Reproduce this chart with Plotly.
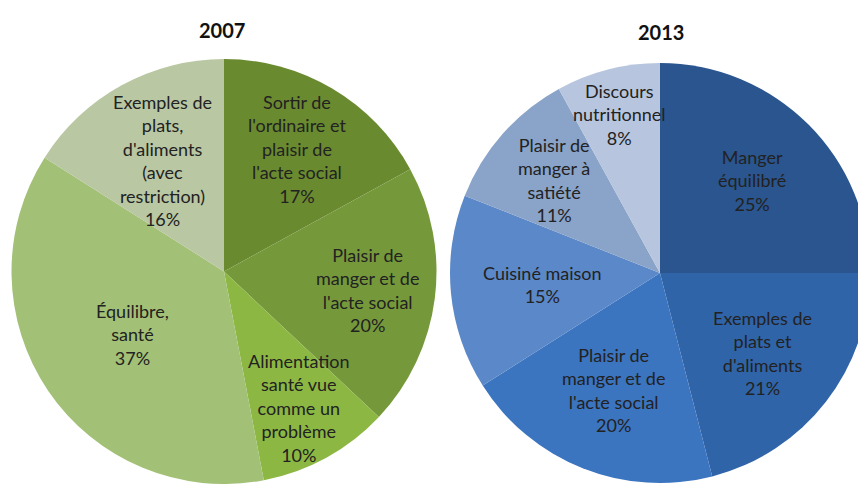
import math
import plotly.graph_objects as go

# ---------------- data ----------------
titles = ["2007", "2013"]

labels_2007 = ["Sortir de<br>l'ordinaire et<br>plaisir de<br>l'acte social",
               "Plaisir de<br>manger et de<br>l'acte social",
               "Alimentation<br>santé vue<br>comme un<br>problème",
               "Équilibre,<br>santé",
               "Exemples de<br>plats,<br>d'aliments<br>(avec<br>restriction)"]
values_2007 = [17, 20, 10, 37, 16]

labels_2013 = ["Manger<br>équilibré",
               "Exemples de<br>plats et<br>d'aliments",
               "Plaisir de<br>manger et de<br>l'acte social",
               "Cuisiné maison",
               "Plaisir de<br>manger à<br>satiété",
               "Discours<br>nutritionnel"]
values_2013 = [25, 21, 20, 15, 11, 8]

# ---------------- styles ----------------
colors_2007 = ["#6a8a2f", "#75993a", "#8cb743", "#a2c176", "#b9c7a2"]
colors_2013 = ["#2a558f", "#3064a8", "#3b74bf", "#5b88c9", "#8aa3c8", "#b7c6de"]
label_r_2007 = [0.67, 0.68, 0.73, 0.52, 0.60]      # radial position of labels (fraction of radius)
label_r_2013 = [0.62, 0.62, 0.60, 0.56, 0.67, 0.78]

W, H = 872, 484
# pie geometry in pixels (centre x from left, centre y from bottom, radius)
pies = [dict(cx=224, cy=212, r=213), dict(cx=660, cy=211, r=210)]

text_font = dict(family="Lato, Carlito, sans-serif", size=18, color="#222222")
title_font = dict(family="Lato, Carlito, sans-serif", size=20, color="#111111")

fig = go.Figure()
datasets = [(labels_2007, values_2007, colors_2007, label_r_2007),
            (labels_2013, values_2013, colors_2013, label_r_2013)]

for (labels, values, colors, lr), g in zip(datasets, pies):
    dom_x = [max(0, (g["cx"] - g["r"]) / W), min(1, (g["cx"] + g["r"]) / W)]
    dom_y = [max(0, (g["cy"] - g["r"]) / H), min(1, (g["cy"] + g["r"]) / H)]
    fig.add_trace(go.Pie(
        labels=labels, values=values, sort=False, direction="clockwise", rotation=0,
        marker=dict(colors=colors, line=dict(width=0)),
        textinfo="none", domain=dict(x=dom_x, y=dom_y), showlegend=False,
        hoverinfo="label+percent"))
    total = sum(values)
    cum = 0
    for lab, v, f in zip(labels, values, lr):
        mid = (cum + v / 2) / total * 2 * math.pi
        cum += v
        px = g["cx"] + f * g["r"] * math.sin(mid)
        py = g["cy"] + f * g["r"] * math.cos(mid)
        fig.add_annotation(text=f"{lab}<br>{v}%", x=px / W, y=py / H,
                           xref="paper", yref="paper", xanchor="center", yanchor="middle",
                           showarrow=False, font=text_font, align="center")

title_pos = [(222, 30), (661, 32)]
for t, (tx, ty) in zip(titles, title_pos):
    fig.add_annotation(text=f"<b>{t}</b>", x=tx / W, y=1 - ty / H, xref="paper", yref="paper",
                       xanchor="center", yanchor="middle", showarrow=False, font=title_font)

fig.update_layout(width=W, height=H, margin=dict(l=0, r=0, t=0, b=0),
                  paper_bgcolor="white", plot_bgcolor="white")
fig.write_html("out.html", config={"displayModeBar": False},
               post_script="document.body.style.margin='0';"
                           "document.documentElement.style.overflow='hidden';"
                           "document.body.style.overflow='hidden';")
